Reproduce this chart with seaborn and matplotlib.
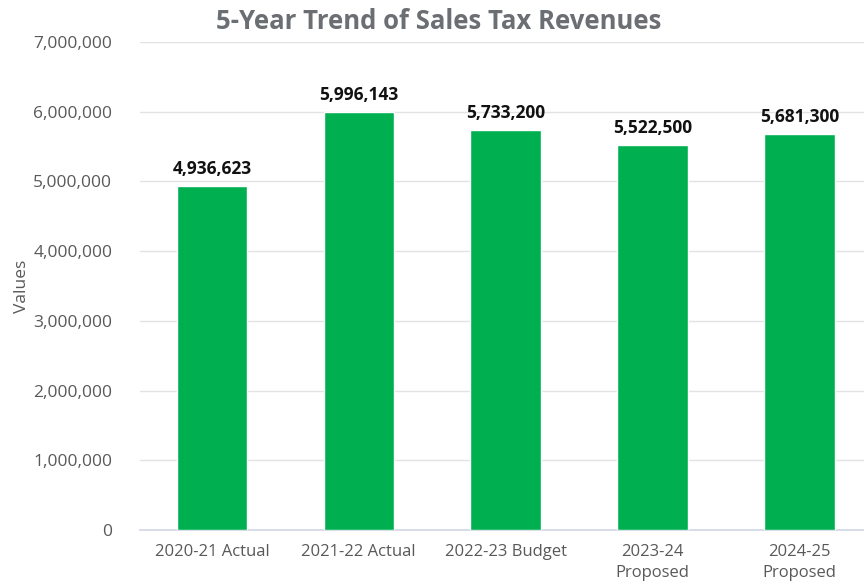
import matplotlib
matplotlib.use("Agg")
import matplotlib.pyplot as plt
import seaborn as sns
import pandas as pd

categories = ["2020-21 Actual", "2021-22 Actual", "2022-23 Budget",
              "2023-24\nProposed", "2024-25\nProposed"]
revenues = [4936623, 5996143, 5733200, 5522500, 5681300]
y_ticks = [0, 1000000, 2000000, 3000000, 4000000, 5000000, 6000000, 7000000]

sns.set_theme(style="white")
plt.rcParams["font.family"] = ["Open Sans", "DejaVu Sans"]

df = pd.DataFrame({"Category": categories, "Values": revenues})

fig = plt.figure(figsize=(8.64, 5.84), dpi=100)
ax = fig.add_axes([0.162, 0.0925, 0.838, 0.8355])

sns.barplot(data=df, x="Category", y="Values", color="#00B050",
            width=0.48, saturation=1, ax=ax, zorder=3)

ax.set_ylim(0, 7000000)
ax.set_xlim(-0.49, 4.44)
ax.set_yticks(y_ticks)
ax.set_yticklabels([f"{v:,}" for v in y_ticks])
ax.yaxis.grid(True, color="#e3e3e3", linewidth=1, zorder=0)
ax.tick_params(axis="y", length=0, pad=20, labelsize=12.5, labelcolor="#595959")
ax.tick_params(axis="x", length=0, pad=10, labelsize=12, labelcolor="#595959")
for lbl in ax.get_xticklabels():
    lbl.set_linespacing(1.45)

for side in ["top", "right", "left"]:
    ax.spines[side].set_visible(False)
ax.spines["bottom"].set_color("#d0d8e6")
ax.spines["bottom"].set_linewidth(1.2)

ax.set_xlabel("")
ax.set_ylabel("Values", fontsize=12.5, color="#595959", labelpad=2)

for i, v in enumerate(revenues):
    ax.annotate(f"{v:,}", xy=(i, v), xytext=(0, 6), textcoords="offset points",
                ha="center", va="bottom", fontsize=12.5, fontweight="bold",
                color="#111111")

fig.text(0.508, 0.963, "5-Year Trend of Sales Tax Revenues", ha="center",
         va="center", fontsize=18.5, fontweight="bold", color="#6b6e72")

fig.savefig("out.png", dpi=100)
